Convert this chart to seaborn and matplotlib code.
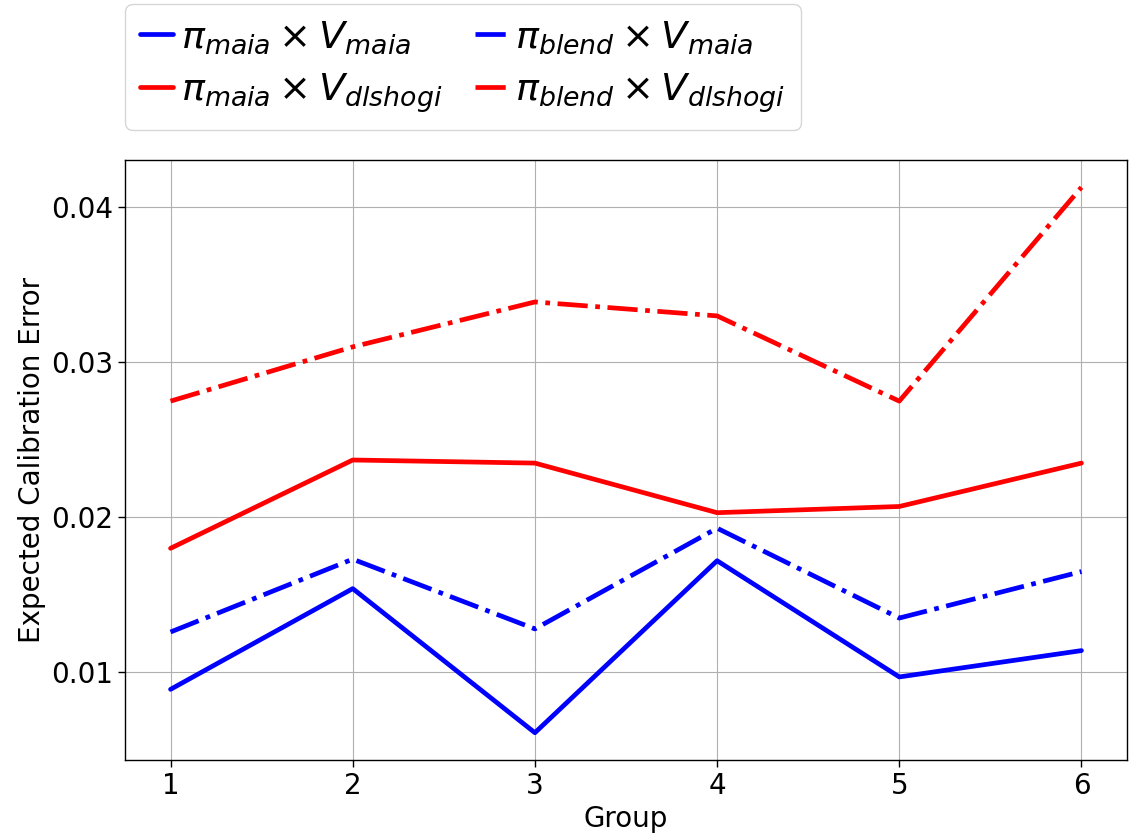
import matplotlib
matplotlib.use("Agg")
import matplotlib.pyplot as plt
import seaborn as sns
import pandas as pd

groups = [1, 2, 3, 4, 5, 6]
maia_maia = [0.0089, 0.0154, 0.0061, 0.0172, 0.0097, 0.0114]
maia_dlshogi = [0.0180, 0.0237, 0.0235, 0.0203, 0.0207, 0.0235]
blend_maia = [0.0126, 0.0173, 0.0128, 0.0193, 0.0135, 0.0165]
blend_dlshogi = [0.0275, 0.0310, 0.0339, 0.0330, 0.0275, 0.0413]

labels = [r"$\pi_{maia} \times V_{maia}$", r"$\pi_{maia} \times V_{dlshogi}$",
          r"$\pi_{blend} \times V_{maia}$", r"$\pi_{blend} \times V_{dlshogi}$"]
series = [maia_maia, maia_dlshogi, blend_maia, blend_dlshogi]
colors = ["blue", "red", "blue", "red"]
styles = ["-", "-", "-.", "-."]

sns.set_style("white", rc={"text.color": "black", "axes.labelcolor": "black",
                           "xtick.color": "black", "ytick.color": "black",
                           "axes.edgecolor": "black"})
plt.rcParams["font.family"] = ["DejaVu Sans"]

fig = plt.figure(figsize=(11.35, 8.4), dpi=100)
ax = fig.add_axes([125/1135, 1-760/840, (1127-125)/1135, (760-160)/840])

for lab, vals, c, ls in zip(labels, series, colors, styles):
    df = pd.DataFrame({"Group": groups, "ECE": vals})
    sns.lineplot(data=df, x="Group", y="ECE", ax=ax, color=c, linestyle=ls,
                 linewidth=3.4, label=lab)

ax.grid(True, color="#b0b0b0", linewidth=0.8)
ax.set_xticks(groups)
ax.set_yticks([0.01, 0.02, 0.03, 0.04])
ax.tick_params(labelsize=20, direction="out", length=5, width=1, left=True, bottom=True)
ax.set_xlabel("Group", fontsize=20)
ax.set_ylabel("Expected Calibration Error", fontsize=20)
for s in ax.spines.values():
    s.set_color("black")
    s.set_linewidth(1)

ax.legend(ncol=2, loc="lower left", bbox_to_anchor=(0.0, 1.05), fontsize=27.5,
          handlelength=0.86, handletextpad=0.2, columnspacing=0.85, frameon=True,
          borderaxespad=0.0, labelspacing=0.4)

fig.savefig("out.png", dpi=100)
